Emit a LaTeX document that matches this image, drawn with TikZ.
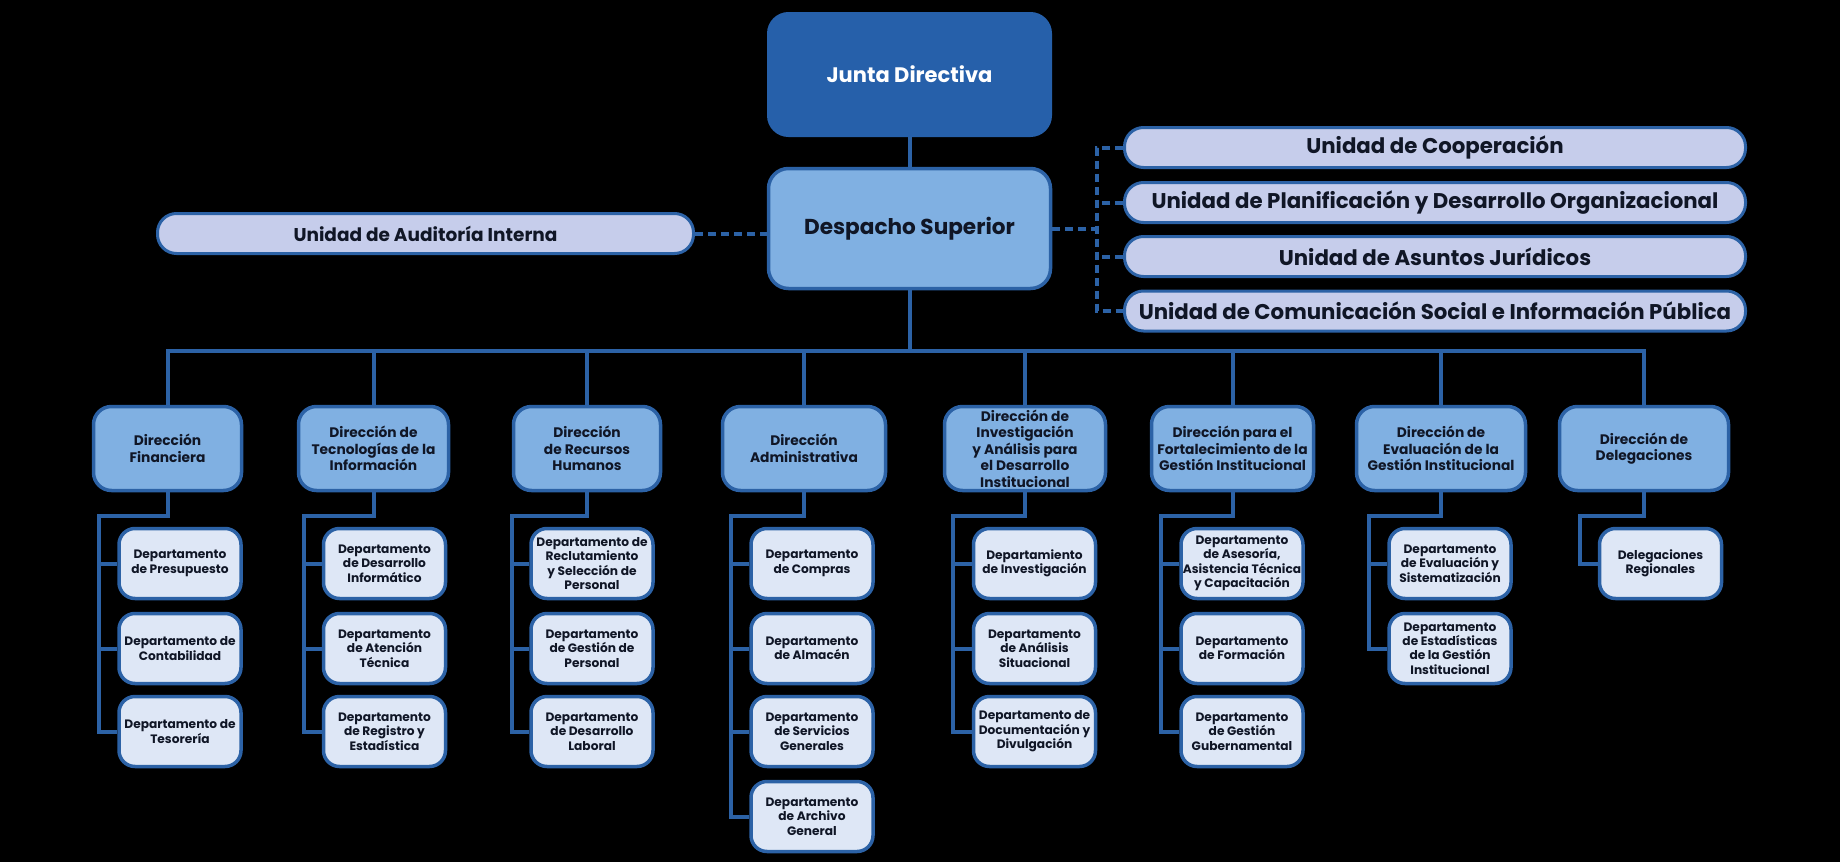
\documentclass[tikz,border=0pt]{standalone}
\usepackage{fontspec}
\setmainfont{Poppins}
\definecolor{orgnavy}{RGB}{38,96,170}
\definecolor{orgedge}{RGB}{44,98,166}
\definecolor{orgsky}{RGB}{128,176,226}
\definecolor{orglilac}{RGB}{198,205,235}
\definecolor{orgpale}{RGB}{222,231,246}
\definecolor{orgink}{RGB}{16,22,38}
\newcommand{\dirfont}{\fontsize{13.8}{16.5}\selectfont\bfseries}
\newcommand{\deptfont}{\fontsize{12.2}{14.4}\selectfont\bfseries}
\newcommand{\unitfont}{\fontsize{21.3}{24}\selectfont\bfseries}

\begin{document}
\begin{tikzpicture}[x=1pt, y=-1pt, text=orgink,
  top/.style={rounded corners=20pt, fill=orgnavy, draw=orgnavy, line width=3pt, text=white,
    minimum width=282pt, minimum height=122pt, font=\fontsize{21}{25}\selectfont\bfseries},
  head/.style={rounded corners=20pt, fill=orgsky, draw=orgedge, line width=3.5pt,
    minimum width=282pt, minimum height=120pt, font=\fontsize{21.6}{25}\selectfont\bfseries},
  unit/.style={rounded corners=19pt, fill=orglilac, draw=orgedge, line width=3pt,
    minimum height=40pt, inner sep=0pt},
  dir/.style={rounded corners=18pt, fill=orgsky, draw=orgedge, line width=3.5pt,
    minimum height=84pt, align=center, inner sep=0pt, font=\dirfont},
  dept/.style={rounded corners=16pt, fill=orgpale, draw=orgedge, line width=3.5pt,
    minimum width=122pt, minimum height=70pt, align=center, inner sep=0pt, font=\deptfont},
  link/.style={draw=orgedge, line width=4pt},
  dashlink/.style={draw=orgedge, line width=4pt, dash pattern=on 8pt off 5pt}]
  \fill[black] (0,0) rectangle (1840,862);
  \useasboundingbox (0,0) rectangle (1840,862);
  % top level
  \node[top] (jd) at (909.5,74.5) {Junta Directiva};
  \node[head] (desp) at (909.5,228.5) {Despacho Superior};
  \node[unit, minimum width=536pt, font=\fontsize{18.5}{21}\selectfont\bfseries] (audit) at (425.5,233.5) {Unidad de Auditoría Interna};
  \node[unit, minimum width=621pt, font=\unitfont] (u1) at (1435,147.5) {Unidad de Cooperación};
  \node[unit, minimum width=621pt, font=\unitfont] (u2) at (1435,202.5) {Unidad de Planificación y Desarrollo Organizacional};
  \node[unit, minimum width=621pt, font=\unitfont] (u3) at (1435,256.5) {Unidad de Asuntos Jurídicos};
  \node[unit, minimum width=621pt, font=\unitfont] (u4) at (1435,311) {Unidad de Comunicación Social e Información Pública};
  % direcciones
  \node[dir, minimum width=148pt] (d1) at (167.5,448.5) {Dirección\\Financiera};
  \node[dir, minimum width=150pt] (d2) at (373.5,448.5) {Dirección de\\Tecnologías de la\\Información};
  \node[dir, minimum width=147pt] (d3) at (587,448.5) {Dirección\\de Recursos\\Humanos};
  \node[dir, minimum width=163pt] (d4) at (804,448.5) {Dirección\\Administrativa};
  \node[dir, minimum width=161pt] (d5) at (1025,448.5) {Dirección de\\Investigación\\y Análisis para\\el Desarrollo\\Institucional};
  \node[dir, minimum width=162pt] (d6) at (1232.5,448.5) {Dirección para el\\Fortalecimiento de la\\Gestión Institucional};
  \node[dir, minimum width=169pt] (d7) at (1441,448.5) {Dirección de\\Evaluación de la\\Gestión Institucional};
  \node[dir, minimum width=169pt] (d8) at (1644,448.5) {Dirección de\\Delegaciones};
  % departamentos
  \node[dept] (p1-1) at (180,563.5) {Departamento\\de Presupuesto};
  \node[dept] (p1-2) at (180,648.5) {Departamento de\\Contabilidad};
  \node[dept] (p1-3) at (180,731.5) {Departamento de\\Tesorería};
  \node[dept] (p2-1) at (384.5,563.5) {Departamento\\de Desarrollo\\Informático};
  \node[dept] (p2-2) at (384.5,648.5) {Departamento\\de Atención\\Técnica};
  \node[dept] (p2-3) at (384.5,731.5) {Departamento\\de Registro y\\Estadística};
  \node[dept] (p3-1) at (592,563.5) {Departamento de\\Reclutamiento\\y Selección de\\Personal};
  \node[dept] (p3-2) at (592,648.5) {Departamento\\de Gestión de\\Personal};
  \node[dept] (p3-3) at (592,731.5) {Departamento\\de Desarrollo\\Laboral};
  \node[dept] (p4-1) at (812,563.5) {Departamento\\de Compras};
  \node[dept] (p4-2) at (812,648.5) {Departamento\\de Almacén};
  \node[dept] (p4-3) at (812,731.5) {Departamento\\de Servicios\\Generales};
  \node[dept] (p4-4) at (812,816.5) {Departamento\\de Archivo\\General};
  \node[dept] (p5-1) at (1034.5,563.5) {Departamiento\\de Investigación};
  \node[dept] (p5-2) at (1034.5,648.5) {Departamento\\de Análisis\\Situacional};
  \node[dept] (p5-3) at (1034.5,731.5) {Departamento de\\Documentación y\\Divulgación};
  \node[dept] (p6-1) at (1242,563.5) {Departamento\\de Asesoría,\\Asistencia Técnica\\y Capacitación};
  \node[dept] (p6-2) at (1242,648.5) {Departamento\\de Formación};
  \node[dept] (p6-3) at (1242,731.5) {Departamento\\de Gestión\\Gubernamental};
  \node[dept] (p7-1) at (1450,563.5) {Departamento\\de Evaluación y\\Sistematización};
  \node[dept] (p7-2) at (1450,648.5) {Departamento\\de Estadísticas\\de la Gestión\\Institucional};
  \node[dept] (p8-1) at (1660.5,563.5) {Delegaciones\\Regionales};
  % connectors
  \coordinate (bus) at (0,351);
  \coordinate (spine) at (1097,0);
  \draw[link] (jd) -- (desp);
  \draw[link] (desp.south) -- (desp.south |- bus);
  \draw[link] (d1.north) |- (d8.north |- bus) -- (d8.north);
  \foreach \c in {2,...,7}
    \draw[link] (d\c.north) -- (d\c.north |- bus);
  \draw[dashlink] (audit.east) -- (desp.west |- audit.east);
  \draw[dashlink] (desp.east) -- (desp.east -| spine);
  \draw[dashlink] (u1.west) -- (u1.west -| spine) |- (u4.west);
  \draw[dashlink] (u2.west) -- (u2.west -| spine);
  \draw[dashlink] (u3.west) -- (u3.west -| spine);
  \foreach \c/\tx/\n in {1/99/3, 2/304/3, 3/512/3, 4/731/4, 5/953/3, 6/1161/3, 7/1369/2, 8/1580/1} {
    \coordinate (t\c) at (\tx,516);
    \draw[link] (d\c.south) |- (t\c) |- (p\c-\n.west);
    \foreach \r in {1,...,\n}
      \draw[link] (t\c |- p\c-\r.west) -- (p\c-\r.west);
  }
\end{tikzpicture}
\end{document}
